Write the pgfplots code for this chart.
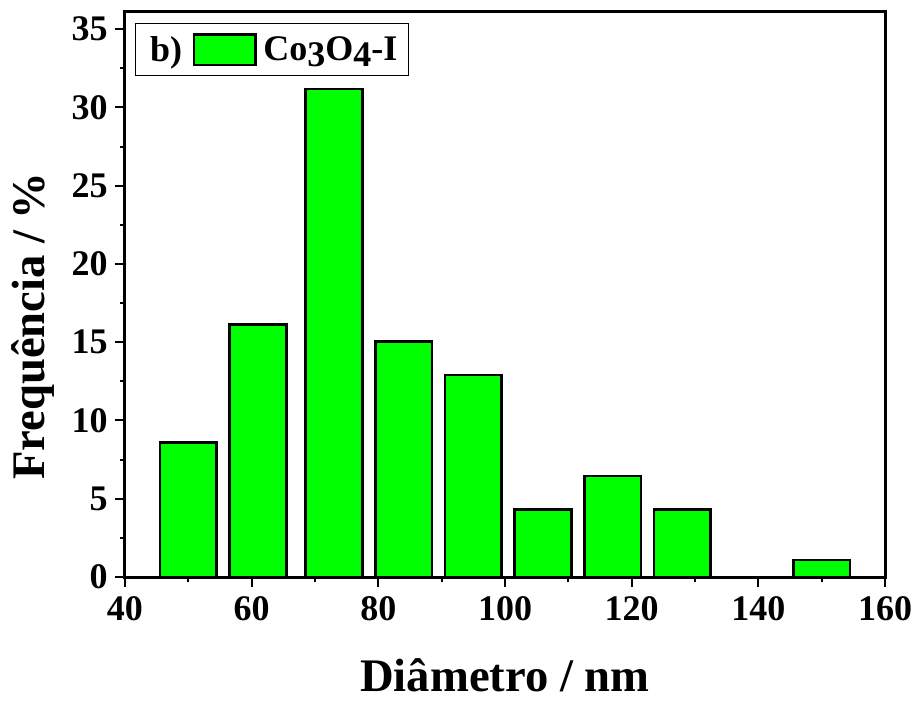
\documentclass[border=0pt]{standalone}
\usepackage{fontspec}
\setmainfont{Liberation Serif}
\usepackage{pgfplots}
\pgfplotsset{compat=1.18}
\definecolor{bargreen}{RGB}{0,255,0}
\begin{document}
\begin{tikzpicture}
\begin{axis}[
  scale only axis, width=570pt, height=423.75pt,
  xmin=40, xmax=160, ymin=0, ymax=36.1,
  xtick={40,60,...,160}, minor x tick num=1,
  ytick={0,5,...,35}, minor y tick num=1,
  tick align=outside, tick pos=left,
  major tick length=7.5pt, minor tick length=4pt,
  axis line style={line width=2.25pt},
  every tick/.style={black, line width=1.5pt},
  ticklabel style={font=\fontsize{27}{27}\selectfont\bfseries},
  xticklabel style={yshift=-4pt},
  yticklabel style={xshift=-2pt},
  /pgf/number format/assume math mode=true,
  xlabel={Diâmetro / nm}, ylabel={Frequência / \%},
  label style={font=\fontsize{35}{35}\selectfont\bfseries},
  xlabel shift=21pt,
  ylabel shift=6pt,
  ylabel style={at={(ticklabel cs:0.444)}},
  legend style={at={(rel axis cs:0.013,0.98)}, anchor=north west, draw=black, line width=0.75pt,
    font=\fontsize{27}{27}\selectfont\bfseries, inner xsep=6pt, inner ysep=7pt,
    /tikz/every even column/.append style={column sep=6pt},
    /tikz/every odd column/.append style={column sep=3pt}},
  legend columns=-1,
]
\addlegendimage{empty legend}
\addlegendentry{b)}
\addplot[ybar, bar width=8.9, fill=bargreen, draw=black, line width=2pt,
  legend image code/.code={\draw[fill=bargreen, draw=black, line width=2pt] (0pt,-11.5pt) rectangle (46pt,11.5pt);}]
  coordinates {(50,8.60)(61,16.13)(73,31.18)(84,15.05)(95,12.90)(106,4.30)(117,6.45)(128,4.30)(150,1.08)};
\addlegendentry{Co\raisebox{-0.35ex}{3}O\raisebox{-0.35ex}{4}-I}
\end{axis}
\pgfresetboundingbox
\path[use as bounding box] ([xshift=-93.75pt,yshift=-95.25pt]current axis.south west) rectangle ([xshift=23.25pt,yshift=9pt]current axis.north east);
\end{tikzpicture}
\end{document}
